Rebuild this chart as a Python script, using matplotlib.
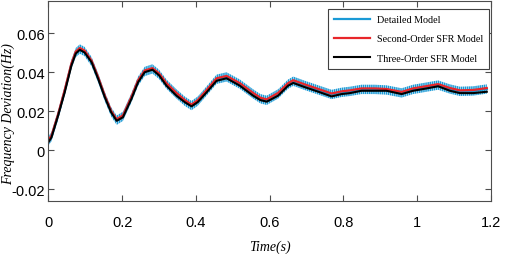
import matplotlib
matplotlib.use("Agg")
import matplotlib.pyplot as plt
import numpy as np

# time axis (s) and frequency deviation (Hz)
t = [0.0, 0.008, 0.026, 0.044, 0.062, 0.074, 0.085, 0.098, 0.117, 0.135,
     0.153, 0.170, 0.185, 0.202, 0.225, 0.243, 0.261, 0.282, 0.300, 0.320,
     0.347, 0.370, 0.388, 0.405, 0.429, 0.456, 0.483, 0.519, 0.555, 0.575,
     0.592, 0.623, 0.650, 0.664, 0.696, 0.732, 0.768, 0.795, 0.818, 0.849,
     0.885, 0.917, 0.958, 0.989, 1.026, 1.057, 1.089, 1.116, 1.152, 1.189]
third_order = [0.0043, 0.0066, 0.0178, 0.0298, 0.0434, 0.0497, 0.0516, 0.0502, 0.0452, 0.0366,
               0.0272, 0.0195, 0.0152, 0.0170, 0.0264, 0.0349, 0.0401, 0.0414, 0.0385, 0.0332,
               0.0281, 0.0247, 0.0226, 0.0248, 0.0298, 0.0357, 0.0370, 0.0332, 0.0281, 0.0258,
               0.0250, 0.0281, 0.0332, 0.0346, 0.0324, 0.0301, 0.0277, 0.0289, 0.0294, 0.0306,
               0.0306, 0.0306, 0.0289, 0.0306, 0.0318, 0.0329, 0.0306, 0.0294, 0.0294, 0.0301]
second_order = [0.0055, 0.0075, 0.0185, 0.0310, 0.0445, 0.0507, 0.0525, 0.0512, 0.0460, 0.0375,
                0.0280, 0.0203, 0.0160, 0.0180, 0.0275, 0.0360, 0.0410, 0.0422, 0.0395, 0.0345,
                0.0295, 0.0258, 0.0235, 0.0258, 0.0310, 0.0370, 0.0382, 0.0345, 0.0295, 0.0270,
                0.0262, 0.0295, 0.0345, 0.0360, 0.0338, 0.0315, 0.0292, 0.0303, 0.0308, 0.0318,
                0.0318, 0.0315, 0.0300, 0.0318, 0.0330, 0.0340, 0.0320, 0.0308, 0.0310, 0.0320]
detailed = [0.0050, 0.0070, 0.0180, 0.0305, 0.0440, 0.0502, 0.0520, 0.0507, 0.0455, 0.0370,
            0.0275, 0.0198, 0.0155, 0.0175, 0.0270, 0.0355, 0.0405, 0.0418, 0.0390, 0.0340,
            0.0290, 0.0252, 0.0230, 0.0253, 0.0305, 0.0365, 0.0377, 0.0340, 0.0290, 0.0265,
            0.0257, 0.0290, 0.0340, 0.0355, 0.0333, 0.0310, 0.0287, 0.0298, 0.0303, 0.0313,
            0.0313, 0.0310, 0.0295, 0.0313, 0.0325, 0.0335, 0.0315, 0.0303, 0.0305, 0.0315]
ripple = 0.0024  # half-width of the switching ripple on the detailed model

labels = ["Detailed Model", "Second-Order SFR Model", "Three-Order SFR Model"]
xticks = [0, 0.2, 0.4, 0.6, 0.8, 1.0, 1.2]
xticklabels = ["0", "0.2", "0.4", "0.6", "0.8", "1", "1.2"]
yticks = [-0.02, 0, 0.02, 0.04, 0.06]
yticklabels = ["-0.02", "0", "0.02", "0.04", "0.06"]

BLUE = "#1a9ad6"
RED = "#e8262a"

plt.rcParams["hatch.linewidth"] = 1.1

fig = plt.figure(figsize=(5.05, 2.55), dpi=100)
ax = fig.add_axes([0.096, 0.208, 0.876, 0.784])

d = np.array(detailed)
ax.fill_between(t, d - ripple, d + ripple, facecolor="none", edgecolor=BLUE,
                hatch="||||||||", linewidth=0)
ax.plot(t, detailed, color=BLUE, lw=1.6, label=labels[0])
ax.plot(t, second_order, color=RED, lw=1.6, label=labels[1])
ax.plot(t, third_order, color="black", lw=1.5, label=labels[2])

ax.set_xlim(0, 1.2)
ax.set_ylim(-0.0259, 0.0766)
ax.set_xticks(xticks)
ax.set_xticklabels(xticklabels, fontfamily="Liberation Sans", fontsize=10.5)
ax.set_yticks(yticks)
ax.set_yticklabels(yticklabels, fontfamily="Liberation Sans", fontsize=10.5)
ax.tick_params(direction="in", top=True, right=True, length=4, width=0.8, color="#4d4d4d")
ax.tick_params(axis="x", pad=10)
ax.tick_params(axis="y", pad=2.5)
for s in ax.spines.values():
    s.set_color("#4d4d4d")
    s.set_linewidth(0.8)

ax.set_xlabel("Time(s)", fontfamily="Liberation Serif", style="italic", fontsize=10, labelpad=8)
ax.set_ylabel("Frequency Deviation(Hz)", fontfamily="Liberation Serif", style="italic",
              fontsize=10)
ax.yaxis.set_label_coords(-0.075, 0.44)

leg = ax.legend(loc="upper right", bbox_to_anchor=(489 / 505, 1 - 10 / 255),
                bbox_transform=fig.transFigure, prop={"family": "Liberation Serif", "size": 7.3},
                fancybox=False, framealpha=1, edgecolor="#404040", handlelength=3.5,
                handletextpad=0.7, labelspacing=1.0, borderpad=0.6, borderaxespad=0)
leg.get_frame().set_linewidth(0.8)

fig.savefig("out.png", dpi=100)
